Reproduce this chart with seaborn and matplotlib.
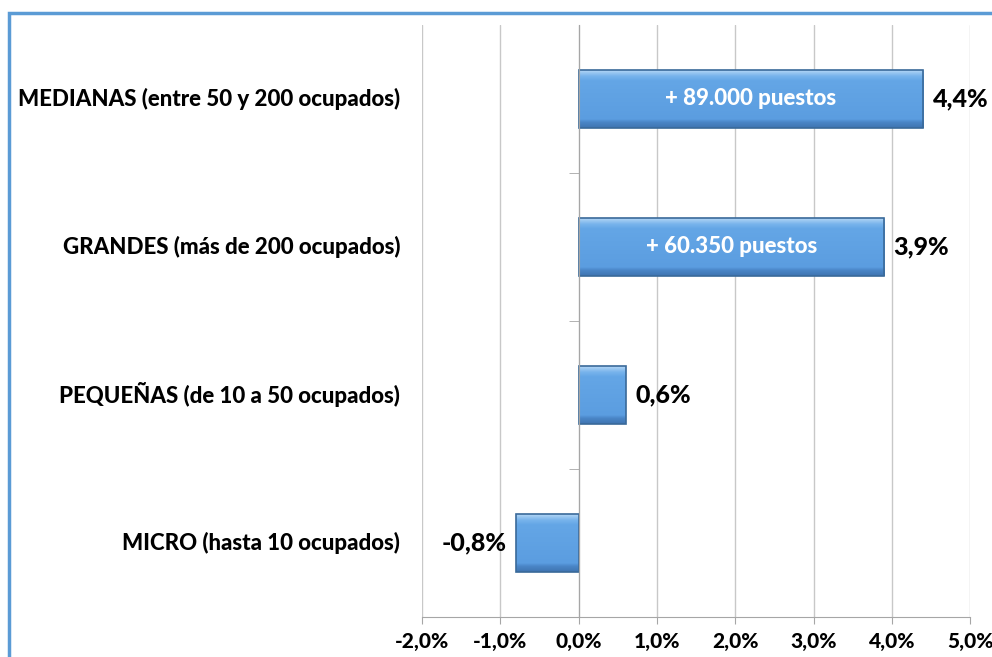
import numpy as np
import matplotlib.pyplot as plt
import matplotlib.transforms as mtransforms
from matplotlib.colors import LinearSegmentedColormap
from matplotlib.patches import Rectangle
import seaborn as sns

categorias = [
    "MEDIANAS (entre 50 y 200 ocupados)",
    "GRANDES (más de 200 ocupados)",
    "PEQUEÑAS (de 10 a 50 ocupados)",
    "MICRO (hasta 10 ocupados)",
]
variacion = [4.4, 3.9, 0.6, -0.8]
puestos = ["+ 89.000 puestos", "+ 60.350 puestos", "", ""]
xticks = [-2, -1, 0, 1, 2, 3, 4, 5]

if __name__ == "__main__":
    sns.set_style("white")
    plt.rcParams["font.family"] = ["Lato", "DejaVu Sans"]
    W = 900

    fig = plt.figure(figsize=(9.92, 6.57), dpi=100)
    ax = fig.add_axes([0.4254, 0.0609, 0.978 - 0.4254, 0.962 - 0.0609])

    sns.barplot(x=variacion, y=categorias, orient="h", color="#5b9bd5",
                width=0.39, edgecolor="#3a6a9a", linewidth=1.2, ax=ax)

    # sombreado tipo bisel: borde superior claro, cuerpo plano, borde inferior oscuro
    grad = np.linspace(0, 1, 200).reshape(-1, 1)
    cmap = LinearSegmentedColormap.from_list(
        "bisel", [(0, "#b3d6f5"), (0.1, "#78b4ec"), (0.18, "#64a6e6"),
                  (0.85, "#5b9de0"), (0.9, "#4a86c8"), (1, "#3f74b0")])
    for p in ax.patches:
        x0, y0 = p.get_x(), p.get_y()
        w, h = p.get_width(), p.get_height()
        im = ax.imshow(grad, cmap=cmap, aspect="auto", extent=[x0, x0 + w, y0 + h, y0],
                       zorder=p.get_zorder() + 0.1)
        im.set_clip_path(p)
        p.set_facecolor("none")
        p.set_zorder(p.get_zorder() + 0.2)

    ax.set_xlim(-2, 5)
    ax.set_ylim(3.5, -0.5)
    ax.set_xticks(xticks)
    ax.set_xticklabels([f"{t:.1f}%".replace(".", ",") for t in xticks], fontsize=15,
                       fontweight=W)
    ax.set_xlabel("")
    ax.set_ylabel("")
    ax.grid(axis="x", color="#c8c8c8", linewidth=1)
    ax.set_axisbelow(True)

    for s in ["top", "right"]:
        ax.spines[s].set_visible(False)
    ax.spines["bottom"].set_color("#a6a6a6")
    ax.spines["left"].set_position(("data", 0))
    ax.spines["left"].set_color("#a6a6a6")
    ax.tick_params(axis="x", bottom=True, direction="out", length=5, color="#a6a6a6",
                   pad=6, labelcolor="black")
    ax.set_yticks([0.5, 1.5, 2.5], minor=True)
    ax.set_yticks([0, 1, 2, 3])
    ax.set_yticklabels([])
    ax.tick_params(axis="y", which="major", left=False, length=0)
    ax.tick_params(axis="y", which="minor", left=True, direction="out", length=7,
                   color="#a6a6a6")

    # etiquetas de categoría a la izquierda
    trans = mtransforms.blended_transform_factory(ax.transAxes, ax.transData)
    for i, c in enumerate(categorias):
        ax.text(-0.04, i, c, transform=trans, ha="right", va="center", fontsize=16,
                fontweight=W, color="black")

    # valores y puestos
    for i, (v, txt) in enumerate(zip(variacion, puestos)):
        lab = f"{v:.1f}%".replace(".", ",")
        if v >= 0:
            ax.text(v + 0.12, i, lab, ha="left", va="center", fontsize=18,
                    fontweight=W, color="black", zorder=5)
        else:
            ax.text(v - 0.12, i, lab, ha="right", va="center", fontsize=18,
                    fontweight=W, color="black", zorder=5)
        if txt:
            ax.text(v / 2, i, txt, ha="center", va="center", fontsize=16,
                    fontweight=W, color="white", zorder=5)

    # marco azul
    fig.patches.append(Rectangle((9 / 992, -0.1), 1.2, 0.1 + 1 - 13 / 657,
                                 transform=fig.transFigure, fill=False,
                                 edgecolor="#5b9bd5", linewidth=2.5))

    fig.savefig("out.png", dpi=100)
